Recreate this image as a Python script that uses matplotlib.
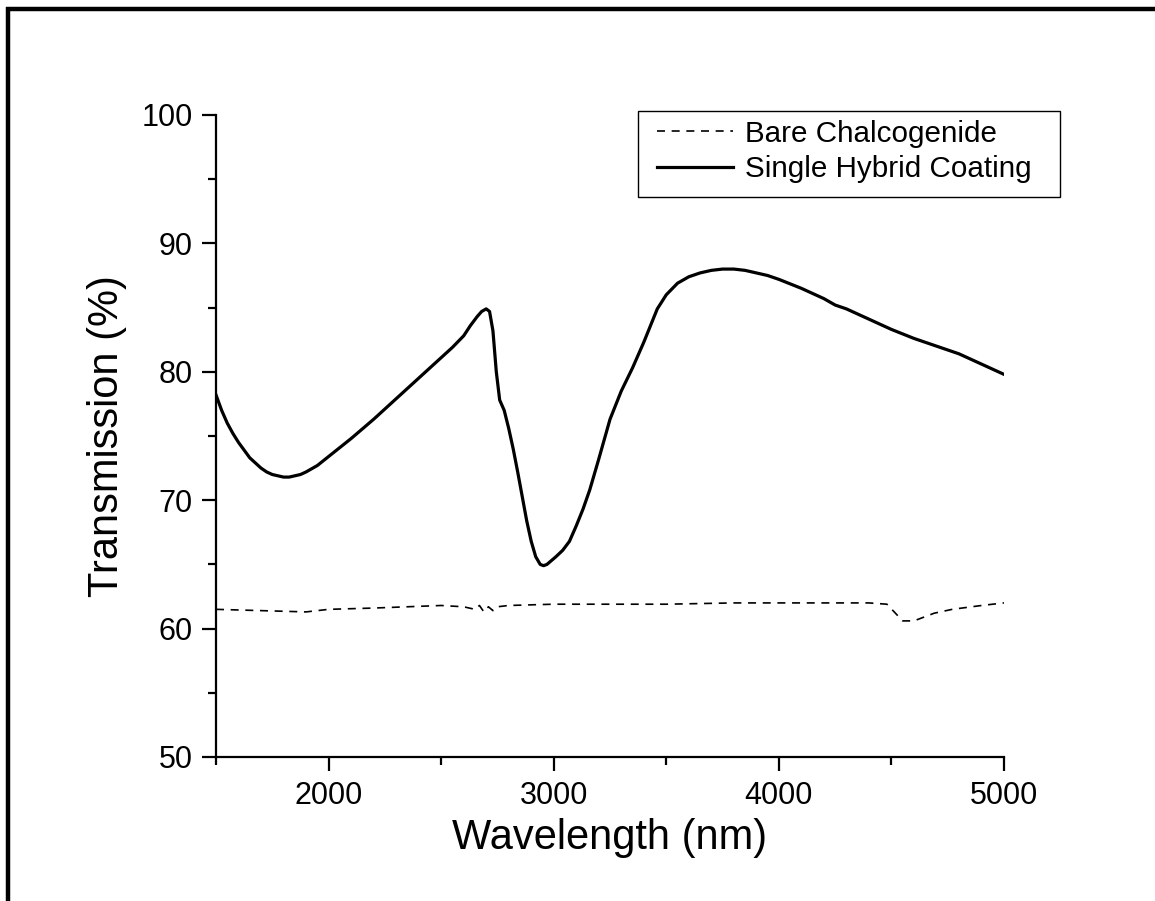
import matplotlib
matplotlib.use("Agg")
import matplotlib.pyplot as plt
from matplotlib.lines import Line2D
from matplotlib.patches import Rectangle
from matplotlib.ticker import MultipleLocator

plt.rcParams['font.family'] = ['Liberation Sans', 'DejaVu Sans']

W, H = 1155, 901

# coated sample
coat_wl = [1500, 1525, 1550, 1575, 1600, 1625, 1650, 1675, 1700, 1725,
           1750, 1775, 1800, 1825, 1850, 1875, 1900, 1950,
           2000, 2100, 2200, 2300, 2400, 2500, 2550, 2600, 2630, 2660,
           2680, 2700, 2715, 2730, 2745, 2760, 2780, 2800, 2820, 2840,
           2860, 2880, 2900, 2920, 2940, 2955, 2970, 2990,
           3010, 3040, 3070, 3100, 3130, 3160, 3200, 3250, 3300, 3350,
           3400, 3430, 3460, 3500, 3550, 3600, 3650, 3700, 3750, 3800,
           3850, 3900, 3950, 4000, 4100, 4200, 4250, 4300,
           4400, 4500, 4600, 4700, 4800, 4900, 5000]
coat_t = [78.2, 77.0, 76.0, 75.2, 74.5, 73.9, 73.3, 72.9, 72.5, 72.2,
          72.0, 71.9, 71.8, 71.8, 71.9, 72.0, 72.2, 72.7,
          73.4, 74.8, 76.3, 77.9, 79.5, 81.1, 81.9, 82.8, 83.6, 84.3,
          84.7, 84.9, 84.7, 83.2, 80.0, 77.8, 77.0, 75.6, 74.0, 72.2,
          70.3, 68.4, 66.8, 65.6, 65.0, 64.9, 65.0, 65.3,
          65.6, 66.1, 66.8, 68.0, 69.3, 70.8, 73.2, 76.3, 78.5, 80.3,
          82.3, 83.6, 84.9, 86.0, 86.9, 87.4, 87.7, 87.9, 88.0, 88.0,
          87.9, 87.7, 87.5, 87.2, 86.5, 85.7, 85.2, 84.9,
          84.1, 83.3, 82.6, 82.0, 81.4, 80.6, 79.8]

# bare substrate
bare_wl = [1500, 1700, 1900, 2000, 2200, 2500, 2600, 2650, 2670, 2690,
           2710, 2730, 2750, 2800, 3000, 3500, 3800, 4000, 4400, 4480,
           4550, 4600, 4690, 4770, 4900, 5000]
bare_t = [61.5, 61.4, 61.3, 61.5, 61.6, 61.8, 61.7, 61.5, 61.8, 61.3,
          61.7, 61.4, 61.7, 61.8, 61.9, 61.9, 62.0, 62.0, 62.0, 61.9,
          60.6, 60.6, 61.2, 61.5, 61.8, 62.0]

fig = plt.figure(figsize=(W / 100, H / 100), dpi=100)
ax = fig.add_axes([216 / W, 1 - 757 / H, 788 / W, 642 / H])

ax.plot(bare_wl, bare_t, color='black', lw=1.2, dashes=(4.8, 4),
        label='Bare Chalcogenide')
ax.plot(coat_wl, coat_t, color='black', lw=2.3,
        label='Single Hybrid Coating')

ax.set_xlim(1500, 5000)
ax.set_ylim(50, 100)
ax.xaxis.set_major_locator(MultipleLocator(1000))
ax.xaxis.set_minor_locator(MultipleLocator(500))
ax.yaxis.set_major_locator(MultipleLocator(10))
ax.yaxis.set_minor_locator(MultipleLocator(5))

for side in ['top', 'right']:
    ax.spines[side].set_visible(False)
for side in ['left', 'bottom']:
    ax.spines[side].set_linewidth(1.6)

ax.tick_params(which='major', direction='out', length=10, width=1.6,
               labelsize=22, pad=7)
ax.tick_params(which='minor', direction='out', length=5.5, width=1.6)

ax.set_xlabel('Wavelength (nm)', fontsize=30, labelpad=5)
ax.set_ylabel('Transmission (%)', fontsize=30, labelpad=10)

# legend entries without their own frame; the box is drawn separately
fig.legend(loc='center left', bbox_to_anchor=(657 / W, 1 - 151.5 / H),
           fontsize=21.3, frameon=False, handlelength=2.57,
           handletextpad=0.4, borderpad=0, labelspacing=0.25,
           borderaxespad=0)
fig.add_artist(Rectangle((638 / W, 1 - 197 / H), 422 / W, 86 / H,
                         transform=fig.transFigure, fill=False,
                         edgecolor='black', lw=1.0))

# heavy frame on top and left edges of the page
fig.add_artist(Line2D([6 / W, 1], [1 - 9 / H, 1 - 9 / H],
                      color='black', lw=3.2, solid_capstyle='butt'))
fig.add_artist(Line2D([8 / W, 8 / W], [0, 1 - 7 / H],
                      color='black', lw=3.2, solid_capstyle='butt'))

fig.savefig('out.png', dpi=100)
